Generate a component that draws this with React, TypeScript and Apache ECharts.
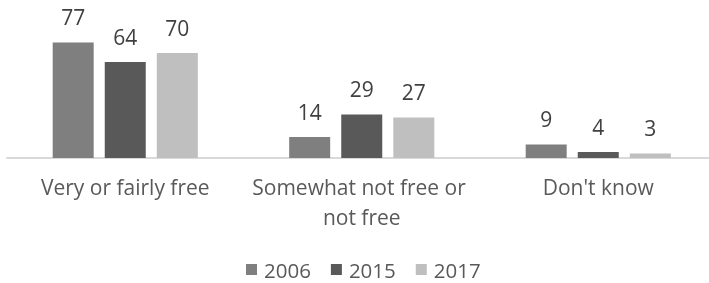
import React, { useEffect, useRef } from "react";
import * as echarts from "echarts";

const categories = ["Very or fairly free", "Somewhat not free or not free", "Don't know"];
const seriesNames = ["2006", "2015", "2017"];
const values2006 = [77, 14, 9];
const values2015 = [64, 29, 4];
const values2017 = [70, 27, 3];
const colors = ["#7f7f7f", "#595959", "#bfbfbf"];

export default function App() {
  const ref = useRef<HTMLDivElement>(null);
  useEffect(() => {
    if (!ref.current) return;
    const chart = echarts.init(ref.current, null, { renderer: "svg" });
    const font = "'Open Sans', 'Noto Sans', sans-serif";
    const data = [values2006, values2015, values2017];
    chart.setOption({
      animation: false,
      textStyle: { fontFamily: font },
      grid: { left: 7, top: 38, width: 709.5, height: 120, containLabel: false },
      legend: {
        data: seriesNames,
        left: 241,
        top: 254,
        itemWidth: 11,
        itemHeight: 11,
        itemGap: 20,
        icon: "rect",
        textStyle: { fontFamily: font, fontSize: 20.5, color: "#595959", padding: [0, 0, 0, 2] },
      },
      xAxis: {
        type: "category",
        data: categories,
        axisLine: { lineStyle: { color: "#d9d9d9", width: 2 } },
        axisTick: { show: false },
        axisLabel: {
          interval: 0,
          fontFamily: font,
          fontSize: 21,
          color: "#595959",
          width: 230,
          overflow: "break",
          lineHeight: 30,
          margin: 14,
        },
      },
      yAxis: { type: "value", min: 0, max: 80, show: false, splitLine: { show: false } },
      series: seriesNames.map((name, i) => ({
        name,
        type: "bar",
        data: data[i],
        barWidth: 41,
        barGap: "27%",
        itemStyle: { color: colors[i] },
        label: {
          show: true,
          position: "top",
          distance: 15,
          fontFamily: font,
          fontSize: 21,
          color: "#404040",
        },
      })),
    });
    return () => chart.dispose();
  }, []);
  return (
    <div style={{ position: "fixed", left: 0, top: 0, width: 709, height: 283, overflow: "hidden" }}>
      <div ref={ref} style={{ width: 730, height: 283 }} />
    </div>
  );
}
